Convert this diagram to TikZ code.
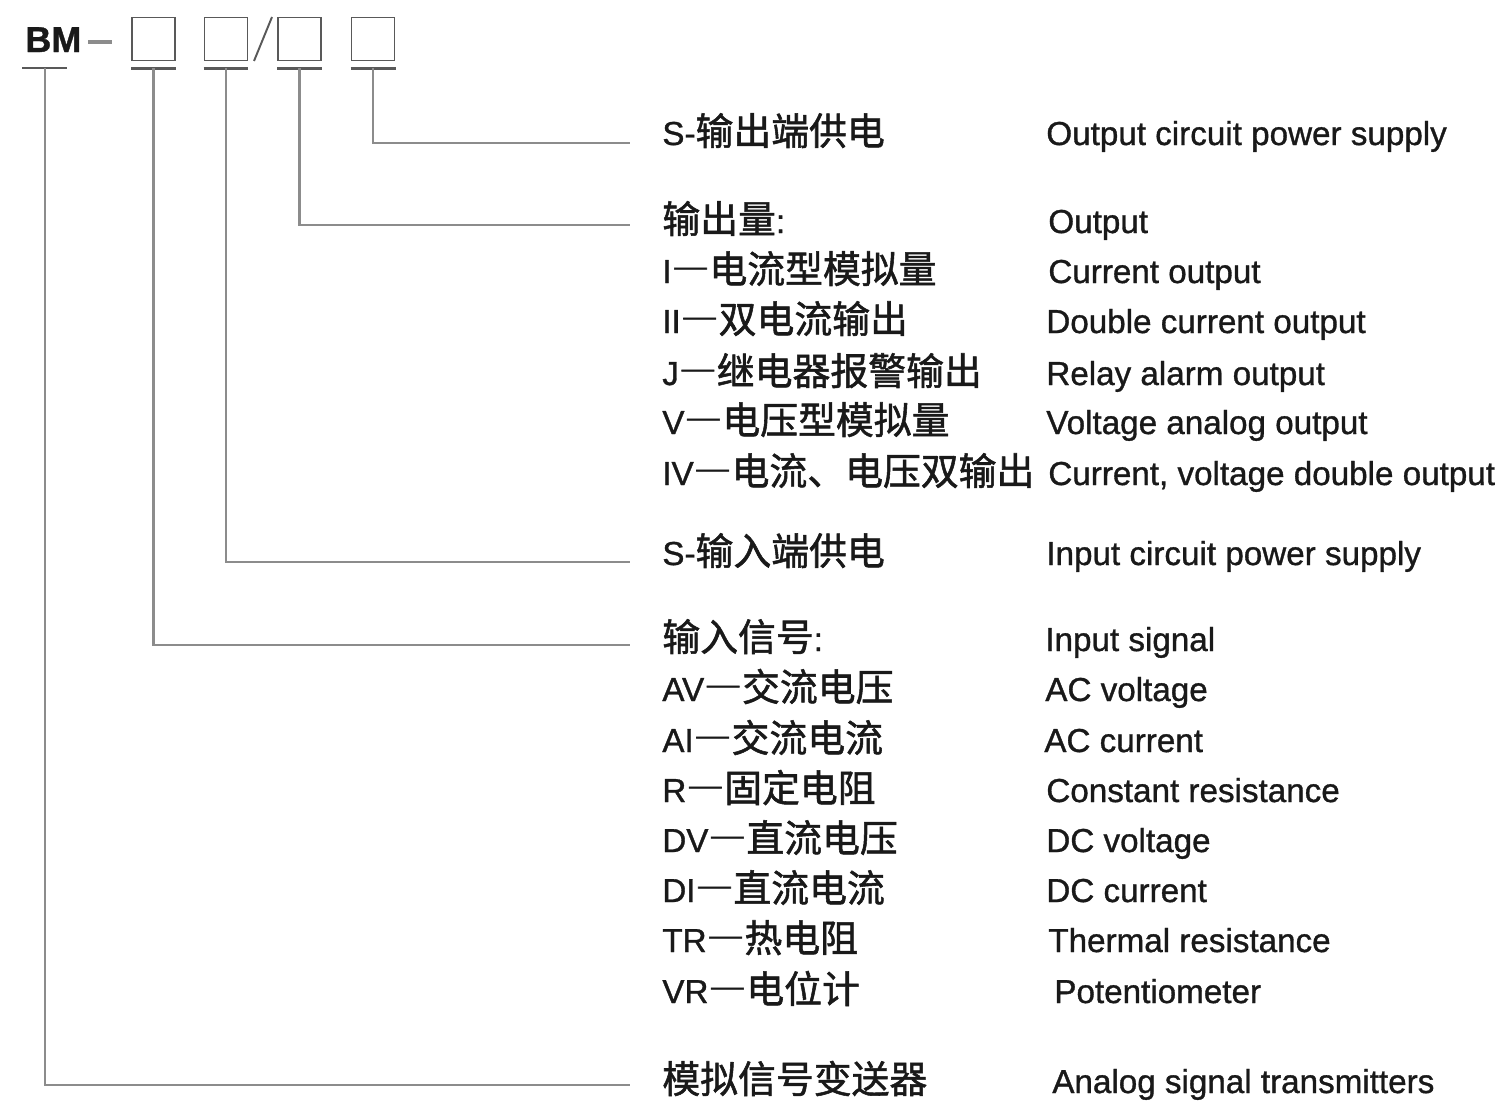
\documentclass[tikz,border=0pt]{standalone}
\usepackage{fontspec}
\setmainfont{Liberation Sans}[FakeBold=1.0]
\newfontfamily\cjk{Noto Sans CJK SC}[Scale=1.14, FakeBold=1.4]
\newfontfamily\cjkdashfont{Noto Sans CJK SC}[Scale=1.14, RawFeature=+fwid, FakeBold=1.6]
\newcommand\longdash{{\cjkdashfont —}}
\usepackage{tikz}

\begin{document}
\begin{tikzpicture}[x=0.02cm, y=-0.02cm,
  code box/.style={draw=black!65, line width=1.1pt, minimum size=0.86cm, inner sep=0pt},
  rule/.style={draw=black!65, line width=1.5pt},
  link/.style={draw=black!45, line width=1.6pt, shorten >=0.64cm},
  label/.style={anchor=base west, inner sep=0pt, text=black!90, font=\fontsize{18.9}{22}\selectfont}]
  \useasboundingbox (0,0) rectangle (1504,1102);

  % model code
  \node[label, font=\fontsize{20.5}{24}\selectfont\bfseries] (bm) at (25,52) {BM};
  \draw[draw=black!45, line width=1.8pt] (88,42) -- (112,42);
  \coordinate (u0) at (45,68);
  \draw[rule] (22,68) -- (67,68);
  \foreach \n/\x in {1/153.5, 2/226, 3/299.5, 4/373} {
    \node[code box] (b\n) at (\x,39) {};
    \coordinate (u\n) at ([yshift=-0.14cm]b\n.south);
    \draw[rule] ([xshift=-0.45cm]u\n) -- ([xshift=0.45cm]u\n);
  }
  \draw[draw=black!65, line width=1.1pt] (254,61) -- (272,17);

  % chinese labels
  \node[label] (sout) at (662,145) {S-{\cjk 输出端供电}};
  \node[label] (out) at (662,233) {{\cjk 输出量}:};
  \node[label] (outi) at (662,283) {I\longdash{\cjk 电流型模拟量}};
  \node[label] (outii) at (662,333) {II\longdash{\cjk 双电流输出}};
  \node[label] (outj) at (662,385) {J\longdash{\cjk 继电器报警输出}};
  \node[label] (outv) at (662,434) {V\longdash{\cjk 电压型模拟量}};
  \node[label] (outiv) at (662,485) {IV\longdash{\cjk 电流、电压双输出}};
  \node[label] (sin) at (662,565) {S-{\cjk 输入端供电}};
  \node[label] (in) at (662,651) {{\cjk 输入信号}:};
  \node[label] (inav) at (662,701) {AV\longdash{\cjk 交流电压}};
  \node[label] (inai) at (662,752) {AI\longdash{\cjk 交流电流}};
  \node[label] (inr) at (662,802) {R\longdash{\cjk 固定电阻}};
  \node[label] (indv) at (662,852) {DV\longdash{\cjk 直流电压}};
  \node[label] (indi) at (662,902) {DI\longdash{\cjk 直流电流}};
  \node[label] (intr) at (662,952) {TR\longdash{\cjk 热电阻}};
  \node[label] (invr) at (662,1003) {VR\longdash{\cjk 电位计}};
  \node[label] (type) at (662,1093) {\cjk 模拟信号变送器};

  % english labels
  \node[label] (sout en) at (1046,145) {Output circuit power supply};
  \node[label] (out en) at (1048,233) {Output};
  \node[label] (outi en) at (1048,283) {Current output};
  \node[label] (outii en) at (1046,333) {Double current output};
  \node[label] (outj en) at (1046,385) {Relay alarm output};
  \node[label] (outv en) at (1046,434) {Voltage analog output};
  \node[label] (outiv en) at (1048,485) {Current, voltage double output};
  \node[label] (sin en) at (1046,565) {Input circuit power supply};
  \node[label] (in en) at (1045,651) {Input signal};
  \node[label] (inav en) at (1045,701) {AC voltage};
  \node[label] (inai en) at (1044,752) {AC current};
  \node[label] (inr en) at (1046,802) {Constant resistance};
  \node[label] (indv en) at (1046,852) {DC voltage};
  \node[label] (indi en) at (1046,902) {DC current};
  \node[label] (intr en) at (1048,952) {Thermal resistance};
  \node[label] (invr en) at (1054,1003) {Potentiometer};
  \node[label] (type en) at (1052,1093) {Analog signal transmitters};

  % leaders
  \draw[link] (u4) |- ([yshift=0.04cm]sout.base west);
  \draw[link] (u3) |- ([yshift=0.16cm]out.base west);
  \draw[link] (u2) |- ([yshift=0.06cm]sin.base west);
  \draw[link] (u1) |- ([yshift=0.12cm]in.base west);
  \draw[link] (u0) |- ([yshift=0.16cm]type.base west);
\end{tikzpicture}
\end{document}
